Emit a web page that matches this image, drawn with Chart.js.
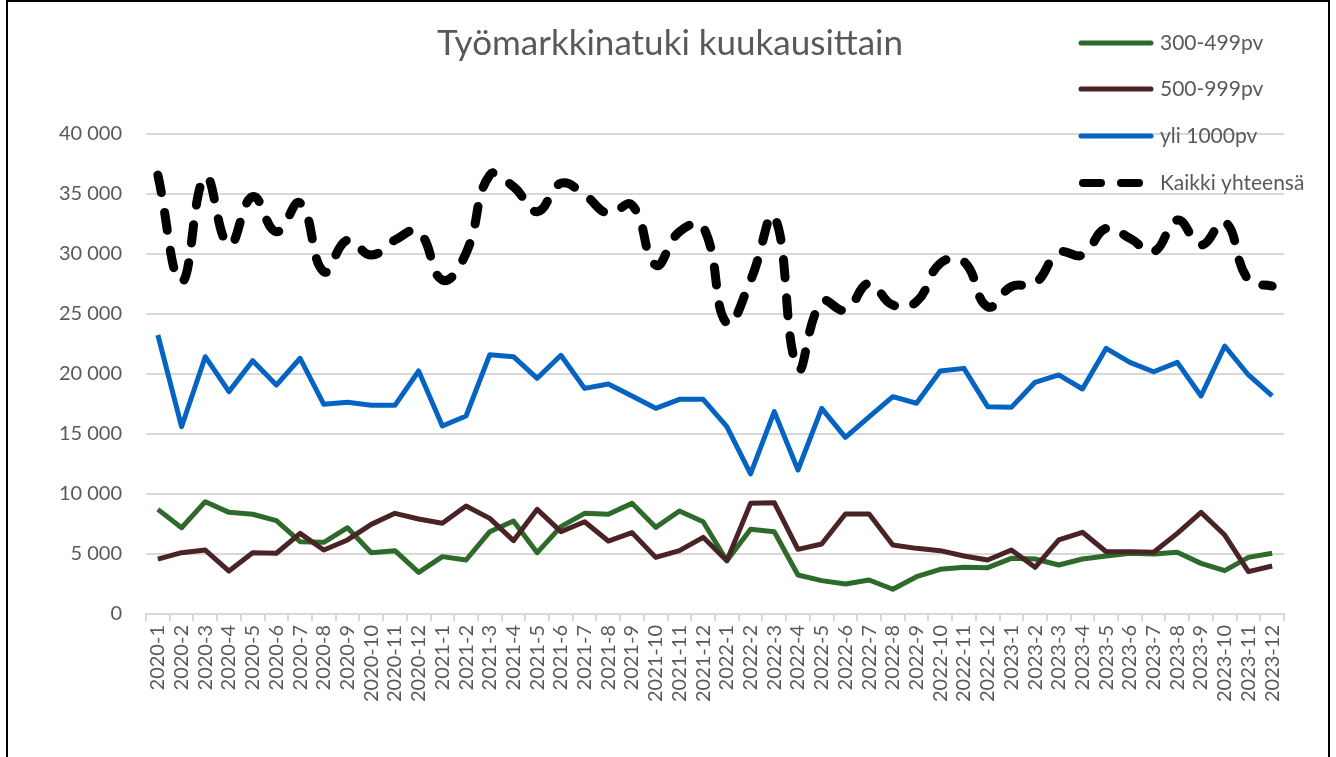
<!DOCTYPE html>
<html>
<head>
<meta charset="utf-8">
<title>Työmarkkinatuki kuukausittain</title>
<script src="https://cdn.jsdelivr.net/npm/chart.js@4.4.1/dist/chart.umd.min.js"></script>
<style>
    html, body { margin: 0; padding: 0; background: #fff; }
    #wrap { position: relative; width: 1336px; height: 757px; overflow: hidden; }
    #frame {
        position: absolute; left: 6px; top: 0; width: 1324px; height: 800px;
        border: 2px solid #000; box-sizing: border-box; pointer-events: none;
    }
</style>
</head>
<body>
<div id="wrap">
    <canvas id="chart" width="1336" height="757" style="width:1336px;height:757px"></canvas>
    <div id="frame"></div>
</div>
<script>
// Kuukaudet
const months = [
    '2020-1', '2020-2', '2020-3', '2020-4', '2020-5', '2020-6', '2020-7', '2020-8', '2020-9', '2020-10', '2020-11', '2020-12',
    '2021-1', '2021-2', '2021-3', '2021-4', '2021-5', '2021-6', '2021-7', '2021-8', '2021-9', '2021-10', '2021-11', '2021-12',
    '2022-1', '2022-2', '2022-3', '2022-4', '2022-5', '2022-6', '2022-7', '2022-8', '2022-9', '2022-10', '2022-11', '2022-12',
    '2023-1', '2023-2', '2023-3', '2023-4', '2023-5', '2023-6', '2023-7', '2023-8', '2023-9', '2023-10', '2023-11', '2023-12'
];

// Sarjat (luettu kuvasta)
const days300to499 = [
    8720, 7190, 9360, 8470, 8310, 7780, 6030, 5970, 7190, 5110, 5280, 3470,
    4780, 4500, 6860, 7750, 5110, 7280, 8390, 8310, 9220, 7220, 8580, 7690,
    4440, 7060, 6860, 3250, 2780, 2500, 2830, 2060, 3110, 3720, 3890, 3860,
    4640, 4580, 4080, 4580, 4830, 5060, 5000, 5140, 4220, 3610, 4720, 5060
];
const days500to999 = [
    4580, 5110, 5330, 3580, 5110, 5060, 6720, 5330, 6170, 7470, 8390, 7920,
    7560, 9000, 7970, 6110, 8720, 6860, 7690, 6080, 6780, 4720, 5280, 6390,
    4440, 9220, 9280, 5390, 5830, 8330, 8330, 5750, 5470, 5280, 4830, 4500,
    5330, 3890, 6170, 6810, 5190, 5190, 5140, 6720, 8470, 6580, 3530, 4000
];
const daysOver1000 = [
    23250, 15610, 21440, 18530, 21110, 19080, 21310, 17470, 17640, 17390, 17390, 20250,
    15670, 16500, 21610, 21440, 19640, 21560, 18800, 19170, 18170, 17140, 17890, 17890,
    15610, 11670, 16860, 12000, 17140, 14720, 16420, 18110, 17560, 20250, 20470, 17280,
    17220, 19310, 19920, 18750, 22140, 20970, 20190, 20970, 18170, 22330, 19920, 18170
];
const totalAll = [
    36580, 27690, 36440, 30750, 34780, 31860, 34250, 28530, 31170, 29920, 31170, 31860,
    27830, 30080, 36580, 35610, 33530, 35890, 34920, 33390, 34080, 29080, 31860, 32280,
    24220, 27800, 33110, 20470, 26030, 25330, 27560, 25750, 26030, 29220, 29360, 25610,
    27280, 27560, 30110, 29920, 32140, 31310, 30190, 32830, 30750, 32690, 27830, 27330
];

const yTicks = [0, 5000, 10000, 15000, 20000, 25000, 30000, 35000, 40000];

const TEXT = '#595959';
const GRID = '#D9D9D9';

Chart.defaults.font.family = "Lato, 'Open Sans', sans-serif";
Chart.defaults.color = TEXT;

// "40 000"
function formatThousands(v) {
    return String(v).replace(/\B(?=(\d{3})+(?!\d))/g, ' ');
}

// Otsikko ja legenda piirretään itse, kuten Excelissä kuvan päälle
const titleAndLegend = {
    id: 'titleAndLegend',
    afterDraw(chart) {
        const ctx = chart.ctx;
        ctx.save();
        ctx.fillStyle = TEXT;
        ctx.font = "35px Lato, sans-serif";
        ctx.textAlign = 'center';
        ctx.textBaseline = 'middle';
        ctx.fillText('Työmarkkinatuki kuukausittain', 670, 44);

        const rows = [43, 89, 136, 183];
        ctx.font = "21px Lato, sans-serif";
        ctx.textAlign = 'left';
        chart.data.datasets.forEach((ds, i) => {
            const y = rows[i];
            ctx.beginPath();
            ctx.strokeStyle = ds.borderColor;
            ctx.lineCap = 'round';
            if (ds.borderDash) {
                ctx.lineWidth = 8;
                ctx.setLineDash(ds.borderDash);
                ctx.moveTo(1083, y);
                ctx.lineTo(1141, y);
            } else {
                ctx.lineWidth = 5;
                ctx.setLineDash([]);
                ctx.moveTo(1081, y);
                ctx.lineTo(1151, y);
            }
            ctx.stroke();
            ctx.setLineDash([]);
            ctx.fillStyle = TEXT;
            ctx.fillText(ds.label, 1160, y);
        });
        ctx.restore();
    }
};

new Chart(document.getElementById('chart'), {
    type: 'line',
    data: {
        labels: months,
        datasets: [
            {
                label: '300-499pv',
                data: days300to499,
                borderColor: '#2E6B2A',
                borderWidth: 5,
                order: 4
            },
            {
                label: '500-999pv',
                data: days500to999,
                borderColor: '#4A2326',
                borderWidth: 5,
                order: 3
            },
            {
                label: 'yli 1000pv',
                data: daysOver1000,
                borderColor: '#0563C1',
                borderWidth: 5,
                order: 2
            },
            {
                label: 'Kaikki yhteensä',
                data: totalAll,
                borderColor: '#000000',
                borderWidth: 9,
                borderDash: [18, 20],
                borderCapStyle: 'round',
                tension: 0.45,
                order: 1
            }
        ]
    },
    options: {
        responsive: false,
        animation: false,
        layout: { padding: { top: 134, right: 52, left: 0, bottom: 0 } },
        elements: {
            point: { radius: 0, hoverRadius: 0 },
            line: { tension: 0, borderJoinStyle: 'round', fill: false }
        },
        plugins: {
            legend: { display: false },
            title: { display: false },
            tooltip: { enabled: false }
        },
        scales: {
            x: {
                offset: true,
                grid: {
                    offset: true,
                    drawOnChartArea: false,
                    drawTicks: true,
                    tickLength: 7,
                    color: GRID,
                    lineWidth: 2
                },
                border: { display: true, color: GRID, width: 2 },
                ticks: {
                    autoSkip: false,
                    minRotation: 90,
                    maxRotation: 90,
                    padding: 4,
                    font: { size: 20 },
                    color: TEXT
                },
                afterFit(scale) { scale.height = 143; }
            },
            y: {
                min: 0,
                max: 40000,
                afterBuildTicks(scale) { scale.ticks = yTicks.map(v => ({ value: v })); },
                grid: { color: GRID, lineWidth: 2, drawTicks: false },
                border: { display: false },
                ticks: {
                    padding: 24,
                    font: { size: 20 },
                    color: TEXT,
                    callback: v => formatThousands(v)
                },
                afterFit(scale) { scale.width = 146; }
            }
        }
    },
    plugins: [titleAndLegend]
});
</script>
</body>
</html>
